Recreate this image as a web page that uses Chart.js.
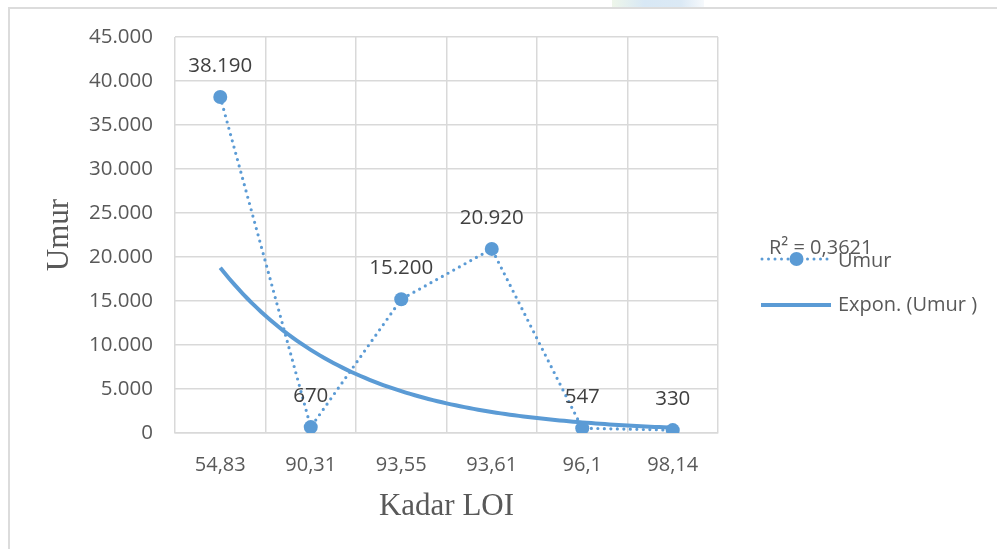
<!DOCTYPE html>
<html>
<head>
<meta charset="utf-8">
<script src="https://cdn.jsdelivr.net/npm/chart.js@4/dist/chart.umd.min.js"></script>
<style>
  html, body { margin: 0; padding: 0; background: #ffffff; }
  #wrap { position: relative; width: 997px; height: 549px; overflow: hidden; }
  #frame { position: absolute; left: 8px; top: 7px; width: 1200px; height: 800px;
           border-top: 2px solid #dcdcdc; border-left: 2px solid #dcdcdc; }
  #logo { position: absolute; left: 612px; top: 0; width: 92px; height: 7px;
          background: linear-gradient(to right, #eef6ea, #d8e8f5 35%, #dbe9f5 75%, #f6f9fc); }
  canvas { position: absolute; left: 0; top: 0; }
</style>
</head>
<body>
<div id="wrap">
  <div id="logo"></div>
  <div id="frame"></div>
  <canvas id="c" width="997" height="549"></canvas>
</div>
<script>
// Kadar LOI categories and the Umur value for each
const categories = ['54,83', '90,31', '93,55', '93,61', '96,1', '98,14'];
const umur = [38190, 670, 15200, 20920, 547, 330];
const seriesName = 'Umur';
const trendName = 'Expon. (Umur )';
const r2Text = 'R\u00B2 = 0,3621';
const yMax = 45000;
const yStep = 5000;

const blue = '#5B9BD5';
const tickColor = '#595959';
const gridColor = '#d9d9d9';

function fmt(v) {
  return String(v).replace(/\B(?=(\d{3})+(?!\d))/g, '.');
}

// Exponential trendline y = a*e^(b*x) fitted on ln(y), x = 1..n
function expFit(vals) {
  const n = vals.length;
  let sx = 0, sy = 0, sxx = 0, sxy = 0;
  vals.forEach((v, i) => {
    const x = i + 1, ly = Math.log(v);
    sx += x; sy += ly; sxx += x * x; sxy += x * ly;
  });
  const b = (n * sxy - sx * sy) / (n * sxx - sx * sx);
  const lnA = (sy - b * sx) / n;
  return { a: Math.exp(lnA), b };
}
const fit = expFit(umur);
const trendPts = [];
for (let k = 0; k <= 100; k++) {
  const x = 1 + (umur.length - 1) * k / 100;
  trendPts.push({ x, y: fit.a * Math.exp(fit.b * x) });
}

const dataLabels = {
  id: 'dataLabels',
  afterDatasetsDraw(chart) {
    const meta = chart.getDatasetMeta(0);
    const ctx = chart.ctx;
    ctx.save();
    ctx.font = '20.5px "Open Sans"';
    ctx.fillStyle = '#404040';
    ctx.textAlign = 'center';
    ctx.textBaseline = 'middle';
    meta.data.forEach((pt, i) => {
      ctx.fillText(fmt(umur[i]), pt.x, pt.y - 31);
    });
    ctx.restore();
  }
};

const sideLegend = {
  id: 'sideLegend',
  afterDraw(chart) {
    const ctx = chart.ctx;
    const x0 = 761, x1 = 831, tx = 838;
    const y0 = 259, y1 = 305;
    ctx.save();
    // Umur: dotted line with marker
    ctx.strokeStyle = blue;
    ctx.lineWidth = 3;
    ctx.lineCap = 'round';
    ctx.setLineDash([0, 6.5]);
    ctx.beginPath(); ctx.moveTo(x0 + 1, y0); ctx.lineTo(x1, y0); ctx.stroke();
    ctx.setLineDash([]);
    ctx.fillStyle = blue;
    ctx.beginPath(); ctx.arc((x0 + x1) / 2 + 0.5, y0, 7, 0, Math.PI * 2); ctx.fill();
    // Expon trendline sample
    ctx.lineWidth = 4;
    ctx.lineCap = 'butt';
    ctx.beginPath(); ctx.moveTo(x0, y1); ctx.lineTo(x1, y1); ctx.stroke();
    ctx.font = '20px "Open Sans"';
    ctx.fillStyle = tickColor;
    ctx.textAlign = 'left';
    ctx.textBaseline = 'middle';
    ctx.fillText(seriesName, tx, y0 + 2);
    ctx.fillText(trendName, tx, y1);
    ctx.fillText(r2Text, 769, 248);
    ctx.restore();
  }
};

new Chart(document.getElementById('c'), {
  type: 'line',
  data: {
    labels: categories,
    datasets: [
      {
        label: seriesName,
        data: umur,
        borderColor: blue,
        backgroundColor: blue,
        borderWidth: 3.2,
        borderDash: [0, 6.5],
        borderCapStyle: 'round',
        pointRadius: 7,
        pointHoverRadius: 7,
        pointBorderWidth: 0,
        pointBackgroundColor: blue,
        tension: 0,
        order: 0
      },
      {
        label: trendName,
        data: trendPts,
        xAxisID: 'xt',
        borderColor: blue,
        borderWidth: 4,
        pointRadius: 0,
        tension: 0,
        order: 1
      }
    ]
  },
  options: {
    responsive: false,
    animation: false,
    devicePixelRatio: 1,
    layout: { padding: { left: 0, top: 37, right: 279, bottom: 0 } },
    plugins: { legend: { display: false }, tooltip: { enabled: false } },
    scales: {
      x: {
        type: 'category',
        offset: true,
        grid: { offset: true, color: gridColor, lineWidth: 1.5, drawTicks: false },
        border: { color: gridColor, width: 1.5 },
        ticks: { color: tickColor, font: { family: 'Open Sans', size: 20 }, padding: 20, maxRotation: 0 },
        title: {
          display: true, text: 'Kadar LOI', color: tickColor,
          font: { family: 'Liberation Serif', size: 31 }, padding: { top: 0, bottom: 24 }
        },
        afterFit(s) { s.height = 116; }
      },
      xt: {
        type: 'linear', display: false, min: 0.5, max: 6.5, offset: false
      },
      y: {
        min: 0, max: yMax,
        grid: { color: gridColor, lineWidth: 1.5, drawTicks: false },
        border: { display: false },
        ticks: {
          stepSize: yStep, color: tickColor, padding: 22,
          font: { family: 'Open Sans', size: 20.5 },
          callback: v => fmt(v)
        },
        title: {
          display: true, text: 'Umur', color: tickColor,
          font: { family: 'Liberation Serif', size: 31 }, padding: { top: 41, bottom: 0 }
        },
        afterFit(s) { s.width = 175; }
      }
    }
  },
  plugins: [dataLabels, sideLegend]
});
</script>
</body>
</html>
